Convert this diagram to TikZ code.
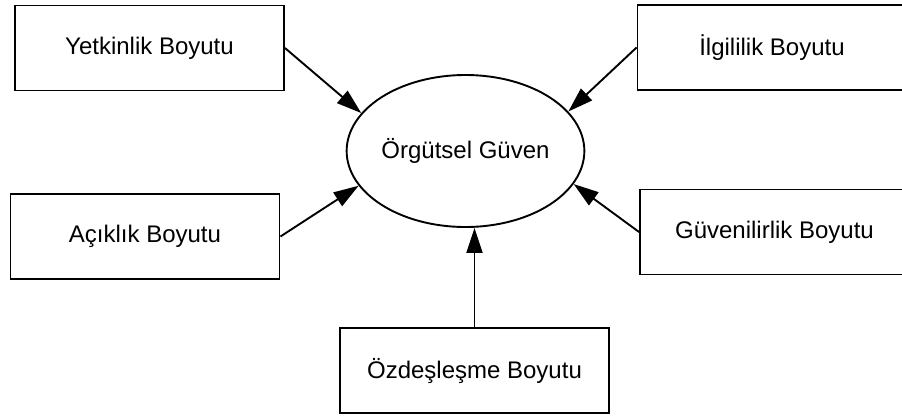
\documentclass[tikz,border=0pt]{standalone}
\usepackage{fontspec}
\setmainfont{Liberation Sans}
\usetikzlibrary{shapes.geometric,arrows.meta}

\begin{document}
\begin{tikzpicture}
  [x=1pt,y=-1pt,line width=1.9pt,>={Triangle[length=25pt,width=16pt]},
   every node/.style={font=\fontsize{24}{28}\selectfont,inner sep=0pt},
   boyut/.style={draw,rectangle,minimum width=269pt,minimum height=85pt}]
  \useasboundingbox (0,0) rectangle (902,418);

  \node[ellipse,draw,minimum width=225pt,minimum height=152pt] (org) at (465.5,151) {Örgütsel Güven};
  \node[boyut] (yet) at (149.5,48)  {Yetkinlik Boyutu};
  \node[boyut] (ilg) at (772,47.5)  {İlgililik Boyutu};
  \node[boyut] (ack) at (145,236.5) {Açıklık Boyutu};
  \node[boyut] (guv) at (774.5,232) {Güvenilirlik Boyutu};
  \node[boyut] (ozd) at (474.5,370.5) {Özdeşleşme Boyutu};

  \foreach \from/\to in {yet.east/org.160,ilg.west/org.21,ack.east/org.198,
                         guv.west/org.-17,ozd.north/ozd.north |- org.south}
    \draw[->] (\from) -- (\to);

\end{tikzpicture}
\end{document}
